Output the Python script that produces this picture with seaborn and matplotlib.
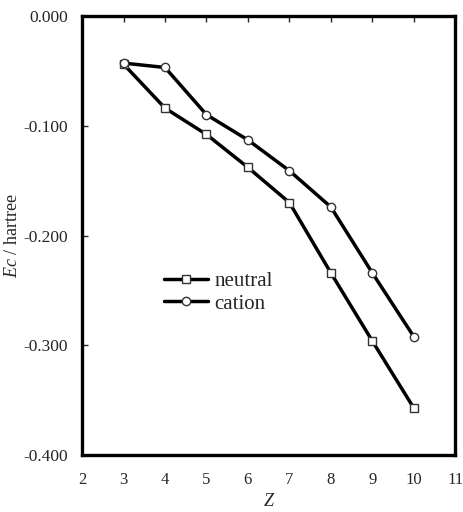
import pandas as pd
import seaborn as sns
import matplotlib.pyplot as plt
from matplotlib.ticker import FormatStrFormatter

# Correlation energy vs nuclear charge
z_values = [3, 4, 5, 6, 7, 8, 9, 10]
neutral_ec = [-0.044, -0.084, -0.108, -0.138, -0.170, -0.234, -0.296, -0.357]
cation_ec = [-0.043, -0.047, -0.090, -0.113, -0.141, -0.174, -0.234, -0.292]

x_ticks = [2, 3, 4, 5, 6, 7, 8, 9, 10, 11]
y_ticks = [0.0, -0.1, -0.2, -0.3, -0.4]

sns.set_style('white')
plt.rcParams['font.family'] = ['Liberation Serif', 'DejaVu Serif']
plt.rcParams['mathtext.fontset'] = 'custom'
plt.rcParams['mathtext.it'] = 'Liberation Serif:italic'
plt.rcParams['mathtext.rm'] = 'Liberation Serif'

neutral = pd.DataFrame({'Z': z_values, 'Ec': neutral_ec})
cation = pd.DataFrame({'Z': z_values, 'Ec': cation_ec})

fig = plt.figure(figsize=(4.64, 5.12), dpi=100)
ax = fig.add_axes([0.177, 0.111, 0.804, 0.858])

sns.lineplot(data=neutral, x='Z', y='Ec', ax=ax, color='black', linewidth=2.5,
             marker='s', markersize=6, markerfacecolor='white',
             markeredgecolor='#333333', markeredgewidth=1.0, label='neutral')
sns.lineplot(data=cation, x='Z', y='Ec', ax=ax, color='black', linewidth=2.5,
             marker='o', markersize=6, markerfacecolor='white',
             markeredgecolor='#333333', markeredgewidth=1.0, label='cation')

ax.set_xlim(2, 11)
ax.set_ylim(-0.4, 0.0)
ax.set_xticks(x_ticks)
ax.set_yticks(y_ticks)
ax.yaxis.set_major_formatter(FormatStrFormatter('%.3f'))

for side in ['left', 'right', 'top', 'bottom']:
    ax.spines[side].set_linewidth(2.4)
    ax.spines[side].set_color('black')

ax.tick_params(axis='x', top=True, bottom=False, labelbottom=True,
               direction='in', length=4, width=1, labelsize=12, pad=12)
ax.tick_params(axis='y', left=True, direction='in', length=4, width=1,
               labelsize=12.5, pad=10)

ax.set_xlabel('$Z$', fontsize=13, labelpad=4)
ax.set_ylabel('$Ec$ / hartree', fontsize=13, labelpad=2)

ax.legend(loc='center left', bbox_to_anchor=(0.17, 0.37), frameon=False,
          fontsize=15, handlelength=2.1, handletextpad=0.3, labelspacing=0.15)

fig.savefig('out.png', dpi=100)
